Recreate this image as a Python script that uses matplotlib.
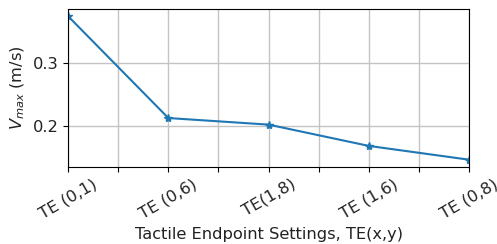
import numpy as np
import matplotlib.pyplot as plt

settings = ["TE (0,1)", "TE (0,6)", "TE(1,8)", "TE (1,6)", "TE (0,8)"]
vmax = [0.375, 0.2125, 0.202, 0.168, 0.146]

fs = 11.7
fig, ax = plt.subplots(figsize=(4.97, 2.44), dpi=100)
x = np.arange(len(settings))
ax.plot(x, vmax, marker="*", color="#1f77b4", linewidth=1.5, markersize=6)

ticks = np.arange(0, len(settings) - 0.5, 0.5)
labels = [settings[int(t)] if t == int(t) else "" for t in ticks]
ax.set_xticks(ticks)
ax.set_xticklabels(labels, rotation=30, fontsize=fs, color="#222222")
ax.set_xlim(0, len(settings) - 1)
ax.set_yticks([0.2, 0.3])
ax.tick_params(axis="y", labelsize=fs, labelcolor="#222222")
ax.grid(True, color="#c4c4c4", linewidth=1.0)
ax.set_xlabel("Tactile Endpoint Settings, TE(x,y)", fontsize=fs, color="#222222")
ax.set_ylabel("$V_{max}$ (m/s)", fontsize=fs, color="#222222")

fig.subplots_adjust(left=0.137, right=0.944, top=0.963, bottom=0.316)
fig.savefig("out.png")
